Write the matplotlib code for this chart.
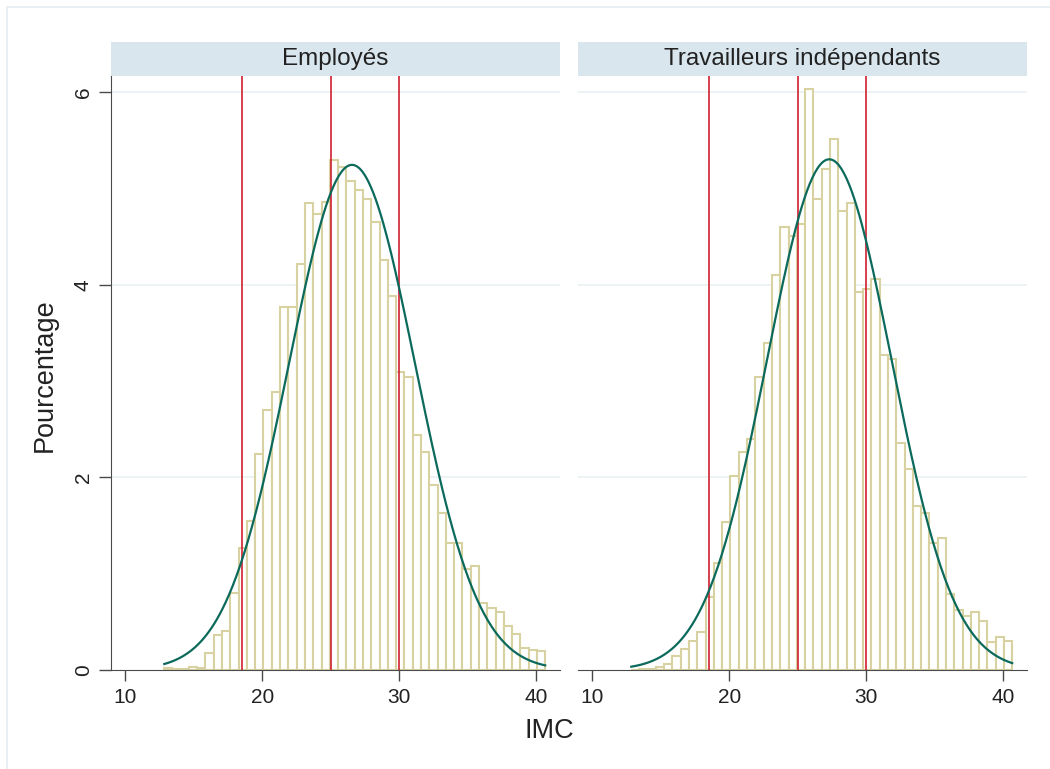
"""
IMC : histogrammes par statut (employés / indépendants) avec courbe normale
"""

import numpy as np
import matplotlib
matplotlib.use('Agg')
import matplotlib.pyplot as plt
from matplotlib.patches import Rectangle

plt.rcParams['font.family'] = ['Liberation Sans', 'DejaVu Sans']

# bins communs (en unités d'IMC)
bin_start = 12.83
bin_width = 0.605

# pourcentage par bin
pct_employes = [
    0.02, 0.015, 0.015, 0.03, 0.02, 0.18, 0.36, 0.41, 0.80, 1.27,
    1.55, 2.24, 2.70, 2.89, 3.77, 3.77, 4.22, 4.85, 4.74, 4.86,
    5.30, 5.22, 5.08, 4.99, 4.89, 4.65, 4.26, 3.89, 3.10, 3.04,
    2.44, 2.26, 1.92, 1.63, 1.32, 1.32, 1.05, 1.08, 0.70, 0.64,
    0.60, 0.46, 0.37, 0.23, 0.21, 0.20,
]
pct_independants = [
    0.0, 0.01, 0.01, 0.03, 0.06, 0.15, 0.22, 0.30, 0.39, 0.76,
    1.11, 1.54, 2.02, 2.26, 2.40, 3.04, 3.40, 4.10, 4.60, 4.51,
    4.63, 6.03, 4.89, 5.20, 5.52, 4.77, 4.85, 3.93, 3.96, 4.06,
    3.27, 3.23, 2.36, 2.09, 1.70, 1.63, 1.32, 1.37, 0.79, 0.62,
    0.56, 0.60, 0.51, 0.29, 0.34, 0.30,
]

# paramètres de la loi normale superposée
mu_employes, sd_employes = 26.55, 4.6
mu_independants, sd_independants = 27.3, 4.55
imc_min, imc_max = 12.85, 40.65

# seuils OMS
seuils = [18.5, 25, 30]

titres = ['Employés', 'Travailleurs indépendants']
x_ticks = [10, 20, 30, 40]
y_ticks = [0, 2, 4, 6]

BAR_EDGE = '#d8d2a2'
RED = '#cf2030'
CURVE = '#0c6a5c'
AXIS = '#4a4a4a'
GRID = '#e9f1f3'
STRIP = '#d9e6ee'

W, H = 1050, 769


def panel(fig, left_px, pct, mu, sd, titre, show_y):
    """Dessine un panneau : histogramme + seuils + normale."""
    ax = fig.add_axes([left_px / W, (H - 670) / H, 449 / W, 594 / H])
    edges = bin_start + bin_width * np.arange(len(pct))
    ax.bar(edges, pct, width=bin_width, align='edge', facecolor='white',
           edgecolor=BAR_EDGE, linewidth=1.5, zorder=2)
    for s in seuils:
        ax.axvline(s, color=RED, linewidth=1.2, zorder=3)

    xs = np.linspace(imc_min, imc_max, 300)
    dens = 100 * bin_width * np.exp(-0.5 * ((xs - mu) / sd) ** 2) / (sd * np.sqrt(2 * np.pi))
    ax.plot(xs, dens, color=CURVE, linewidth=1.6, zorder=4)

    ax.set_xlim(8.96, 41.73)
    ax.set_ylim(0, 6.17)
    ax.set_xticks(x_ticks)
    ax.set_yticks(y_ticks)
    for g in y_ticks[1:]:
        ax.axhline(g, color=GRID, linewidth=1.2, zorder=1)

    for side in ['top', 'right']:
        ax.spines[side].set_visible(False)
    ax.spines['bottom'].set_color(AXIS)
    ax.spines['left'].set_color(AXIS)
    ax.tick_params(axis='x', length=8, width=1, color=AXIS, labelsize=15,
                   labelcolor='#222222', pad=5)
    if show_y:
        ax.tick_params(axis='y', length=9, width=1, color=AXIS, labelsize=15,
                       labelcolor='#222222', labelrotation=90, pad=4)
        for lab in ax.get_yticklabels():
            lab.set_va('center')
    else:
        ax.spines['left'].set_visible(False)
        ax.tick_params(axis='y', left=False, labelleft=False)

    # bandeau du titre
    sx = fig.add_axes([left_px / W, (H - 76) / H, 449 / W, 34 / H])
    sx.set_facecolor(STRIP)
    sx.set_xticks([])
    sx.set_yticks([])
    for sp in sx.spines.values():
        sp.set_visible(False)
    sx.text(0.5, 0.5, titre, ha='center', va='center', fontsize=17.5,
            color='#222222', transform=sx.transAxes)
    return ax


fig = plt.figure(figsize=(W / 100, H / 100), dpi=100)
fig.patch.set_facecolor('white')
# cadre du graphique (coupé à droite et en bas dans l'original)
fig.patches.append(Rectangle((7 / W, -20 / H), 1060 / W, 782 / H, transform=fig.transFigure,
                             fill=False, edgecolor='#e4eef1', linewidth=1.2))

panel(fig, 111, pct_employes, mu_employes, sd_employes, titres[0], True)
panel(fig, 578, pct_independants, mu_independants, sd_independants, titres[1], False)

fig.text(45 / W, 1 - 375 / H, 'Pourcentage', rotation=90, ha='center', va='center',
         fontsize=19.5, color='#222222')
fig.text(549 / W, 1 - 731 / H, 'IMC', ha='center', va='center', fontsize=19.5,
         color='#222222')

fig.savefig('out.png', dpi=100)
